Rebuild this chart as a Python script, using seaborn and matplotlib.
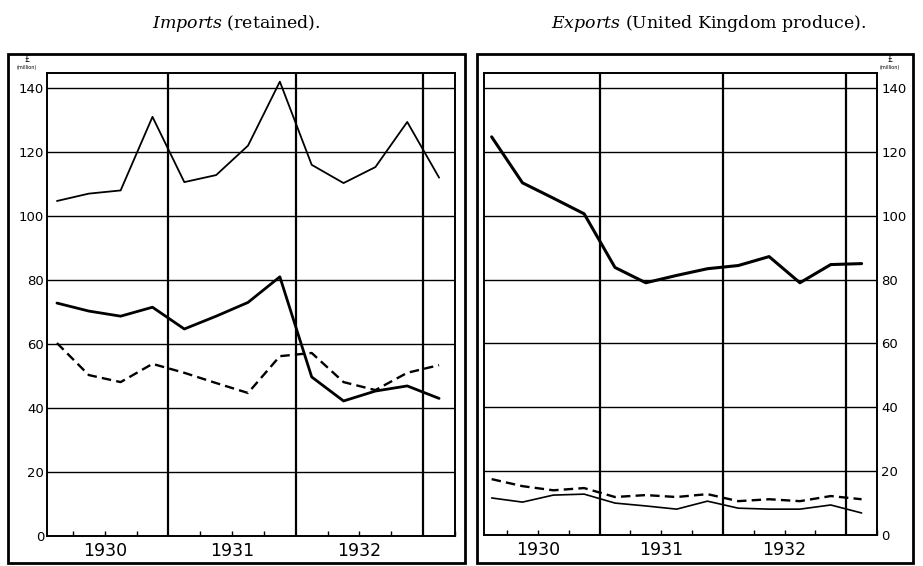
import matplotlib
matplotlib.use("Agg")
import matplotlib.pyplot as plt
import seaborn as sns
import pandas as pd
from matplotlib.patches import Rectangle
from matplotlib.transforms import blended_transform_factory

# ---------------- data ----------------
quarters = [1930.125, 1930.375, 1930.625, 1930.875,
            1931.125, 1931.375, 1931.625, 1931.875,
            1932.125, 1932.375, 1932.625, 1932.875,
            1933.125]

imports_total = [104.7, 107, 108, 131, 110.6, 112.8, 122, 142, 116, 110.3, 115.3, 129.4, 112]
imports_solid = [72.8, 70.3, 68.7, 71.5, 64.7, 68.7, 73, 81, 49.7, 42.2, 45.3, 46.9, 43]
imports_dashed = [60.3, 50.3, 48.1, 53.8, 51, 47.8, 44.7, 56.2, 57.2, 48.1, 45.6, 51, 53.4]

exports_total = [124.7, 110.3, 105.5, 100.6, 83.8, 79, 81.3, 83.4, 84.4, 87.2, 79, 84.7, 85]
exports_dashed = [17.5, 15.3, 14, 14.7, 11.9, 12.5, 11.9, 12.8, 10.6, 11.2, 10.6, 12.2, 11.2]
exports_thin = [11.6, 10.3, 12.5, 12.8, 10, 9.1, 8.1, 10.6, 8.4, 8.1, 8.1, 9.4, 6.9]

year_labels = ["1930", "1931", "1932"]
year_mids = [1930.5, 1931.5, 1932.5]
year_lines = [1931, 1932, 1933]
quarter_ticks = [1930.25, 1930.5, 1930.75, 1931.25, 1931.5, 1931.75,
                 1932.25, 1932.5, 1932.75, 1933.25]
y_ticks = [0, 20, 40, 60, 80, 100, 120, 140]

# ---------------- style ----------------
sns.set_style("white")
plt.rcParams['font.family'] = ['DejaVu Sans']
plt.rcParams['text.color'] = 'black'
plt.rcParams['xtick.color'] = 'black'
plt.rcParams['ytick.color'] = 'black'
plt.rcParams['mathtext.fontset'] = 'custom'
plt.rcParams['mathtext.it'] = 'DejaVu Serif:italic'
plt.rcParams['mathtext.rm'] = 'DejaVu Serif'

W, H = 923, 566
fig = plt.figure(figsize=(W / 100, H / 100), dpi=100)
fig.patch.set_facecolor("white")


def fbox(x0, y0, x1, y1):
    return [x0 / W, 1 - y1 / H, (x1 - x0) / W, (y1 - y0) / H]


axL = fig.add_axes(fbox(47, 73, 455, 536))
axR = fig.add_axes(fbox(484, 73, 877, 535))

dfL = pd.DataFrame({"q": quarters, "total": imports_total,
                    "solid": imports_solid, "dashed": imports_dashed})
dfR = pd.DataFrame({"q": quarters, "total": exports_total,
                    "dashed": exports_dashed, "thin": exports_thin})

dash = (0, (4, 2.2))
sns.lineplot(data=dfL, x="q", y="total", ax=axL, color="black", lw=1.3, legend=False)
sns.lineplot(data=dfL, x="q", y="solid", ax=axL, color="black", lw=2.0, legend=False)
sns.lineplot(data=dfL, x="q", y="dashed", ax=axL, color="black", lw=1.7,
             linestyle=dash, legend=False)

sns.lineplot(data=dfR, x="q", y="total", ax=axR, color="black", lw=2.2, legend=False)
sns.lineplot(data=dfR, x="q", y="dashed", ax=axR, color="black", lw=1.7,
             linestyle=dash, legend=False)
sns.lineplot(data=dfR, x="q", y="thin", ax=axR, color="black", lw=1.2, legend=False)

axL.set_xlim(1930.047, 1933.234)
axR.set_xlim(1930.063, 1933.134)

for ax in (axL, axR):
    ax.set_ylim(0, 144.7)
    ax.set_xlabel("")
    ax.set_ylabel("")
    ax.set_yticks(y_ticks)
    ax.set_yticklabels([str(v) for v in y_ticks])
    ax.yaxis.grid(True, color="black", lw=1.0)
    ax.xaxis.grid(False)
    ax.set_axisbelow(True)
    for yl in year_lines:
        ax.axvline(yl, color="black", lw=1.6, zorder=1)
    ax.set_xticks(quarter_ticks)
    ax.set_xticklabels([])
    ax.tick_params(axis="x", direction="in", length=3.5, width=1.0, color="black",
                   bottom=True, top=False)
    ax.tick_params(axis="y", length=0, labelsize=9.5, pad=2, labelcolor="black")
    for s in ax.spines.values():
        s.set_color("black")
        s.set_linewidth(1.4)
    tr = blended_transform_factory(ax.transData, ax.transAxes)
    for lab, xm in zip(year_labels, year_mids):
        ax.text(xm, -0.013, lab, transform=tr, ha="center", va="top", fontsize=12.5,
                color="black")

axR.yaxis.tick_right()
axR.tick_params(axis="y", length=0, pad=3)

# unit labels
fig.text(27 / W, 1 - 60 / H, "£", ha="center", va="center", fontsize=6, color="black")
fig.text(27 / W, 1 - 67 / H, "(million)", ha="center", va="center", fontsize=3.5, color="black")
fig.text(890 / W, 1 - 60 / H, "£", ha="center", va="center", fontsize=6, color="black")
fig.text(890 / W, 1 - 67 / H, "(million)", ha="center", va="center", fontsize=3.5, color="black")

# titles
fig.text(236 / W, 1 - 24 / H, r"$\it{Imports}$ (retained).", ha="center", va="center",
         fontsize=12.5, family="DejaVu Serif", color="black")
fig.text(709 / W, 1 - 24 / H, r"$\it{Exports}$ (United Kingdom produce).", ha="center",
         va="center", fontsize=12.5, family="DejaVu Serif", color="black")

# outer frames
for (x0, y0, x1, y1) in [(8, 54, 465, 563), (477, 54, 913, 563)]:
    fig.add_artist(Rectangle((x0 / W, 1 - y1 / H), (x1 - x0) / W, (y1 - y0) / H,
                             transform=fig.transFigure, fill=False, ec="black", lw=2.0))

fig.savefig("out.png", dpi=100)
